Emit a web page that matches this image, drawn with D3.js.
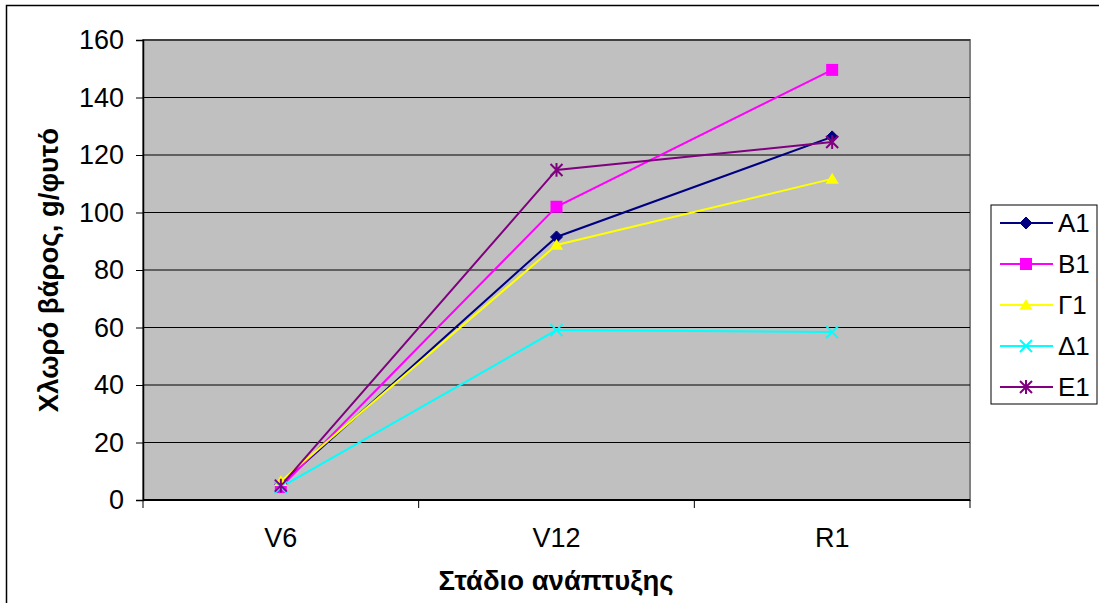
<!DOCTYPE html>
<html><head><meta charset="utf-8">
<script src="https://cdn.jsdelivr.net/npm/d3@7"></script>
<style>body{margin:0;background:#fff}svg{display:block}text{font-family:"Liberation Sans",Arial,sans-serif}</style>
</head><body><svg id="c" width="1099" height="603"></svg>
<script>
const categories = ["V6", "V12", "R1"];
const seriesNames = ["Α1", "Β1", "Γ1", "Δ1", "Ε1"];
const A1 = [5.5, 91.5, 126.3];
const B1 = [4.5, 102, 149.6];
const G1 = [6.5, 88.7, 111.7];
const D1 = [4.5, 59.1, 58.4];
const E1 = [5, 114.8, 124.5];
const yTicks = [0, 20, 40, 60, 80, 100, 120, 140, 160];
const colors = ["#000080", "#FF00FF", "#FFFF00", "#00FFFF", "#800080"];
const shapes = ["diamond", "square", "triangle", "x", "star"];
const seriesValues = [A1, B1, G1, D1, E1];

const svg = d3.select("#c");
const L = 143, R = 970, T = 40, B = 500;

svg.append("rect").attr("x", 6.5).attr("y", 5.5).attr("width", 1200).attr("height", 700)
  .attr("fill", "none").attr("stroke", "#000").attr("stroke-width", 1.5);

const x = d3.scaleBand().domain(categories).range([L, R]);
const y = d3.scaleLinear().domain([0, 160]).range([B, T]);

svg.append("rect").attr("x", L).attr("y", T).attr("width", R - L).attr("height", B - T)
  .attr("fill", "#C0C0C0").attr("stroke", "#808080").attr("stroke-width", 2);

svg.append("g").selectAll("line").data(yTicks.filter(d => d > 0)).join("line")
  .attr("x1", L).attr("x2", R).attr("y1", d => y(d)).attr("y2", d => y(d))
  .attr("stroke", "#000").attr("stroke-width", 1);

// y axis
const yAxis = svg.append("g").attr("transform", `translate(${L},0)`)
  .call(d3.axisLeft(y).tickValues(yTicks).tickSize(7).tickPadding(12));
yAxis.select(".domain").attr("stroke", "#000").attr("stroke-width", 1.5);
yAxis.selectAll("text").attr("font-size", 27).attr("fill", "#000").attr("font-family", "Liberation Sans, Arial");
yAxis.selectAll(".tick line").attr("stroke", "#000");

// x axis
const xAxis = svg.append("g").attr("transform", `translate(0,${B})`)
  .call(d3.axisBottom(x).tickSize(0).tickPadding(28));
xAxis.select(".domain").remove();
xAxis.selectAll("text").attr("font-size", 27).attr("fill", "#000").attr("font-family", "Liberation Sans, Arial");
const bounds = [L].concat(categories.map(c => x(c) + x.bandwidth()));
svg.append("g").selectAll("line").data(bounds).join("line")
  .attr("x1", d => d).attr("x2", d => d).attr("y1", B).attr("y2", B + 8)
  .attr("stroke", "#000").attr("stroke-width", 1);
svg.append("line").attr("x1", L).attr("x2", R).attr("y1", B).attr("y2", B)
  .attr("stroke", "#000").attr("stroke-width", 2);

function marker(g, shape, color, s) {
  if (shape === "diamond") {
    g.append("path").attr("d", `M0,${-s}L${s},0L0,${s}L${-s},0Z`).attr("fill", color).attr("stroke", color);
  } else if (shape === "square") {
    g.append("rect").attr("x", -s).attr("y", -s).attr("width", s * 2).attr("height", s * 2).attr("fill", color);
  } else if (shape === "triangle") {
    g.append("path").attr("d", `M0,${-s}L${s * 1.1},${s * 0.8}L${-s * 1.1},${s * 0.8}Z`).attr("fill", color);
  } else if (shape === "x") {
    g.append("path").attr("d", `M${-s},${-s}L${s},${s}M${-s},${s}L${s},${-s}`).attr("stroke", color).attr("stroke-width", 2);
  } else if (shape === "star") {
    g.append("path").attr("d", `M${-s},${-s}L${s},${s}M${-s},${s}L${s},${-s}M0,${-s * 1.15}L0,${s * 1.15}`).attr("stroke", color).attr("stroke-width", 2);
  }
}

const line = d3.line().x((d, i) => x(categories[i]) + x.bandwidth() / 2).y(d => y(d));
seriesValues.forEach((vals, si) => {
  svg.append("path").attr("d", line(vals)).attr("fill", "none")
    .attr("stroke", colors[si]).attr("stroke-width", 2);
});
seriesValues.forEach((vals, si) => {
  vals.forEach((v, i) => {
    const g = svg.append("g").attr("transform", `translate(${x(categories[i]) + x.bandwidth() / 2},${y(v)})`);
    marker(g, shapes[si], colors[si], 6);
  });
});

// axis titles
svg.append("text").attr("x", 556).attr("y", 590).attr("text-anchor", "middle")
  .attr("font-size", 27.5).attr("font-weight", "bold").text("Στάδιο ανάπτυξης");
svg.append("text").attr("transform", `translate(58,270) rotate(-90)`).attr("text-anchor", "middle")
  .attr("font-size", 27.5).attr("font-weight", "bold").text("Χλωρό βάρος, g/φυτό");

// legend
const lg = svg.append("g");
lg.append("rect").attr("x", 991).attr("y", 205).attr("width", 106).attr("height", 199)
  .attr("fill", "#fff").attr("stroke", "#000").attr("stroke-width", 1);
seriesNames.forEach((n, i) => {
  const cy = 223 + i * 41;
  lg.append("line").attr("x1", 1000).attr("x2", 1053).attr("y1", cy).attr("y2", cy)
    .attr("stroke", colors[i]).attr("stroke-width", 2);
  const g = lg.append("g").attr("transform", `translate(1026,${cy})`);
  marker(g, shapes[i], colors[i], 6);
  lg.append("text").attr("x", 1058).attr("y", cy + 9).attr("font-size", 26).text(n);
});
</script></body></html>
